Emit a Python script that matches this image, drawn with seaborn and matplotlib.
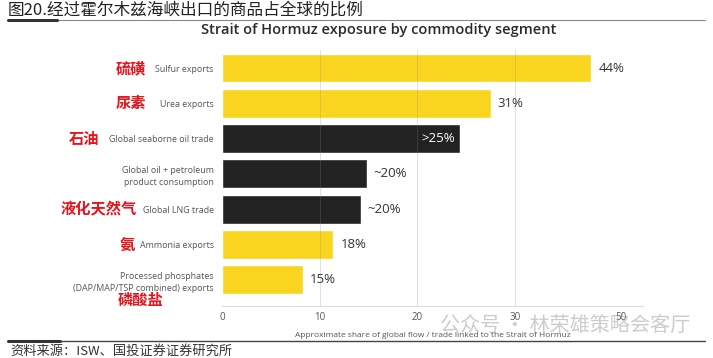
import matplotlib
matplotlib.use("Agg")
import matplotlib.pyplot as plt
import seaborn as sns
import pandas as pd

# ---------------------------------------------------------
# Data
# ---------------------------------------------------------

segments = [
    "Sulfur exports",
    "Urea exports",
    "Global seaborne oil trade",
    "Global oil + petroleum\nproduct consumption",
    "Global LNG trade",
    "Ammonia exports",
    "Processed phosphates\n(DAP/MAP/TSP combined) exports",
]
segments_cn = ["硫磺", "尿素", "石油", "", "液化天然气", "氨", "磷酸盐"]
# drawn bar length on the axis scale
bar_len = [37.8, 27.5, 24.4, 14.8, 14.2, 11.4, 8.3]
value_labels = ["44%", "31%", ">25%", "~20%", "~20%", "18%", "15%"]
kind = ["fert", "fert", "energy", "energy", "energy", "fert", "fert"]

tick_pos = [0, 10, 20, 30, 40.8]
tick_labels = ["0", "10", "20", "30", "50"]
grid_x = [10, 20, 30]

# ---------------------------------------------------------
# Style
# ---------------------------------------------------------

YELLOW = "#F9D51F"
BLACK = "#222222"
RED = "#E5131B"

sns.set_style("white")
plt.rcParams["font.family"] = ["Open Sans", "Noto Sans CJK SC", "DejaVu Sans"]
CJK = ["Noto Sans CJK SC", "DejaVu Sans"]

df = pd.DataFrame({"segment": segments, "share": bar_len, "kind": kind})

fig = plt.figure(figsize=(7.13, 3.58), dpi=100)
ax = fig.add_axes([222 / 713, 1 - 306 / 358, (643 - 222) / 713, (306 - 50) / 358])

sns.barplot(data=df, x="share", y="segment", hue="kind",
            palette={"fert": YELLOW, "energy": BLACK}, saturation=1,
            width=0.82, legend=False, ax=ax, zorder=1)

for gx in grid_x:
    ax.axvline(gx, color="#888888", lw=0.6, alpha=0.3, zorder=3)

ax.set_xlim(0, 43.1)
ax.set_ylim(6.74, -0.51)
ax.set_xticks(tick_pos)
ax.set_xticklabels(tick_labels, fontsize=7, color="#555555")
ax.tick_params(axis="x", length=0, pad=4)
ax.tick_params(axis="y", length=0, pad=6)
for lab in ax.get_yticklabels():
    lab.set_fontsize(6.4)
    lab.set_color("#555555")
    lab.set_linespacing(1.5)
ax.set_ylabel("")
ax.set_xlabel("Approximate share of global flow / trade linked to the Strait of Hormuz",
              fontsize=6, color="#555555", labelpad=7)
sns.despine(ax=ax, left=True, top=True, right=True)
ax.spines["bottom"].set_color("#dddddd")
ax.spines["bottom"].set_linewidth(0.8)

# value labels
for i, (v, lab) in enumerate(zip(bar_len, value_labels)):
    if lab.startswith(">"):
        ax.annotate(lab, xy=(v, i), xytext=(-5, 0), textcoords="offset pixels",
                    ha="right", va="center", fontsize=9.5, color="white", zorder=5)
    else:
        ax.annotate(lab, xy=(v, i), xytext=(7, 0), textcoords="offset pixels",
                    ha="left", va="center", fontsize=9.5, color="#333333")

# red Chinese labels (offsets in pixels from the axis left edge)
cn_offsets = [(-76, 0), (-76, 0), (-123, 0), (0, 0), (-85, 0), (-87, 0), (-59, -20)]
for i, (txt, (dx, dy)) in enumerate(zip(segments_cn, cn_offsets)):
    if not txt:
        continue
    ax.annotate(txt, xy=(0, i), xycoords=("axes fraction", "data"),
                xytext=(dx, dy), textcoords="offset pixels",
                ha="right", va="center", fontsize=11, fontweight="bold",
                color=RED, family=CJK, annotation_clip=False)

# chart title
fig.text(379 / 713, 1 - 30 / 358, "Strait of Hormuz exposure by commodity segment",
         ha="center", va="center", fontsize=10.5, fontweight="semibold", color="#2a2a2a")

# report header / footer
fig.text(8 / 713, 1 - 10 / 358, "图20.经过霍尔木兹海峡出口的商品占全球的比例",
         ha="left", va="center", fontsize=12, color="#222222", family=CJK)
fig.add_artist(plt.Line2D([8 / 713, 705 / 713], [1 - 20 / 358] * 2, color="#888888", lw=0.8))
fig.add_artist(plt.Line2D([8 / 713, 57 / 713], [1 - 20 / 358] * 2, color="#333333", lw=2.2))
fig.add_artist(plt.Line2D([8 / 713, 705 / 713], [1 - 341 / 358] * 2, color="#444444", lw=1.0))
fig.add_artist(plt.Line2D([8 / 713, 60 / 713], [1 - 341 / 358] * 2, color="#333333", lw=2.2))
fig.text(10 / 713, 1 - 351 / 358, "资料来源：ISW、国投证券证券研究所",
         ha="left", va="center", fontsize=9.5, style="italic", color="#333333", family=CJK)

# watermark
fig.text(690 / 713, 1 - 325 / 358, "公众号 · 林荣雄策略会客厅",
         ha="right", va="center", fontsize=14.5, color="#9a9a9a", alpha=0.5, family=CJK)

fig.savefig("out.png", dpi=100)
